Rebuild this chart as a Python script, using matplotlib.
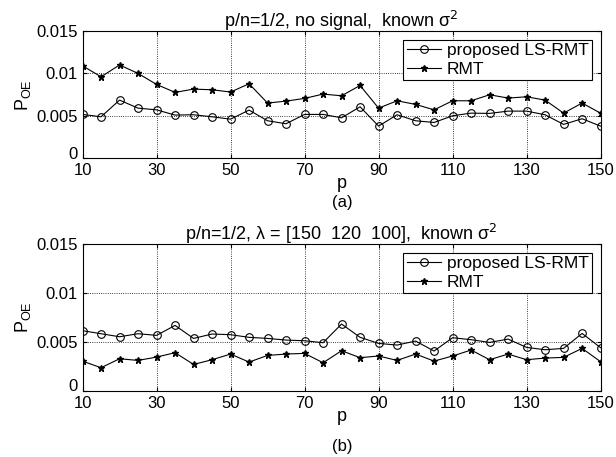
import numpy as np
import matplotlib
matplotlib.use("Agg")
import matplotlib.pyplot as plt
import matplotlib.transforms as mtransforms

plt.rcParams['font.family'] = ['Liberation Sans Narrow', 'Liberation Sans', 'DejaVu Sans']

p = np.arange(10, 155, 5)

# (a) no signal
ls_rmt_a = [5.16, 4.88, 6.85, 5.90, 5.70, 5.08, 5.12, 4.88, 4.60, 5.67,
            4.41, 4.06, 5.16, 5.16, 4.76, 6.06, 3.78, 5.12, 4.41, 4.21,
            5.00, 5.31, 5.28, 5.55, 5.55, 5.12, 3.98, 4.65, 3.78]
rmt_a = [10.9, 9.6, 11.0, 10.0, 8.7, 7.76, 8.15, 8.07, 7.8, 8.78,
         6.5, 6.73, 7.05, 7.56, 7.36, 8.58, 5.9, 6.77, 6.34, 5.7,
         6.77, 6.77, 7.48, 7.09, 7.24, 6.85, 5.31, 6.5, 5.31]

# (b) lambda = [150 120 100]
ls_rmt_b = [6.14, 5.83, 5.52, 5.83, 5.66, 6.68, 5.35, 5.80, 5.73, 5.46,
            5.35, 5.18, 5.11, 4.91, 6.82, 5.46, 4.84, 4.67, 5.08, 4.06,
            5.42, 5.22, 4.94, 5.28, 4.43, 4.19, 4.33, 5.86, 4.40]
rmt_b = [3.03, 2.35, 3.27, 3.10, 3.44, 3.89, 2.69, 3.17, 3.75, 2.93,
         3.61, 3.75, 3.82, 2.86, 4.09, 3.38, 3.55, 3.10, 3.75, 3.03,
         3.55, 4.16, 3.17, 3.75, 3.17, 3.34, 3.41, 4.33, 2.97]

titles = ['p/n=1/2, no signal,  known σ$^2$',
          'p/n=1/2, λ = [150  120  100],  known σ$^2$']
labels = ['(a)', '(b)']

fig = plt.figure(figsize=(6.16, 4.57), dpi=100)
ax1 = fig.add_axes([0.134, 0.654, 0.841, 0.278])
ax2 = fig.add_axes([0.134, 0.145, 0.841, 0.321])

data = [(ls_rmt_a, rmt_a), (ls_rmt_b, rmt_b)]
for ax, (ls, rm), t in zip([ax1, ax2], data, titles):
    ax.plot(p, np.array(ls) / 1000, color='k', lw=0.8, marker='o', ms=5.5,
            mfc='none', mew=0.8, label='proposed LS-RMT')
    ax.plot(p, np.array(rm) / 1000, color='k', lw=0.8, marker='*', ms=5,
            label='RMT')
    ax.set_xlim(10, 150)
    ax.set_ylim(0, 0.015)
    ax.set_xticks(np.arange(10, 151, 20))
    ax.set_yticks([0, 0.005, 0.01, 0.015])
    ax.set_yticklabels(['0', '0.005', '0.01', '0.015'])
    ax.grid(True, color='k', ls=':', lw=0.6)
    ax.tick_params(direction='in', top=True, right=True, labelsize=12, length=3)
    # nudge the "0" label up a little, like the original
    lab0 = ax.get_yticklabels()[0]
    lab0.set_transform(lab0.get_transform() +
                       mtransforms.ScaledTranslation(0, 4 / 72, fig.dpi_scale_trans))
    for s in ax.spines.values():
        s.set_linewidth(0.8)
    ax.set_title(t, fontsize=13, pad=3)
    ax.set_xlabel('p', fontsize=13, labelpad=-2)
    ax.set_ylabel('P$_{\\mathregular{OE}}$', fontsize=13, labelpad=2)
    leg = ax.legend(loc='upper right', fontsize=12.5, fancybox=False,
                    edgecolor='k', framealpha=1, borderaxespad=0.5,
                    handlelength=2.0, handletextpad=0.3, borderpad=0.2,
                    labelspacing=0.2)
    leg.get_frame().set_linewidth(0.8)

fig.text(0.555, 1 - 203 / 457, labels[0], ha='center', va='center', fontsize=12)
fig.text(0.555, 1 - 447 / 457, labels[1], ha='center', va='center', fontsize=12)

fig.savefig('out.png', dpi=100)
